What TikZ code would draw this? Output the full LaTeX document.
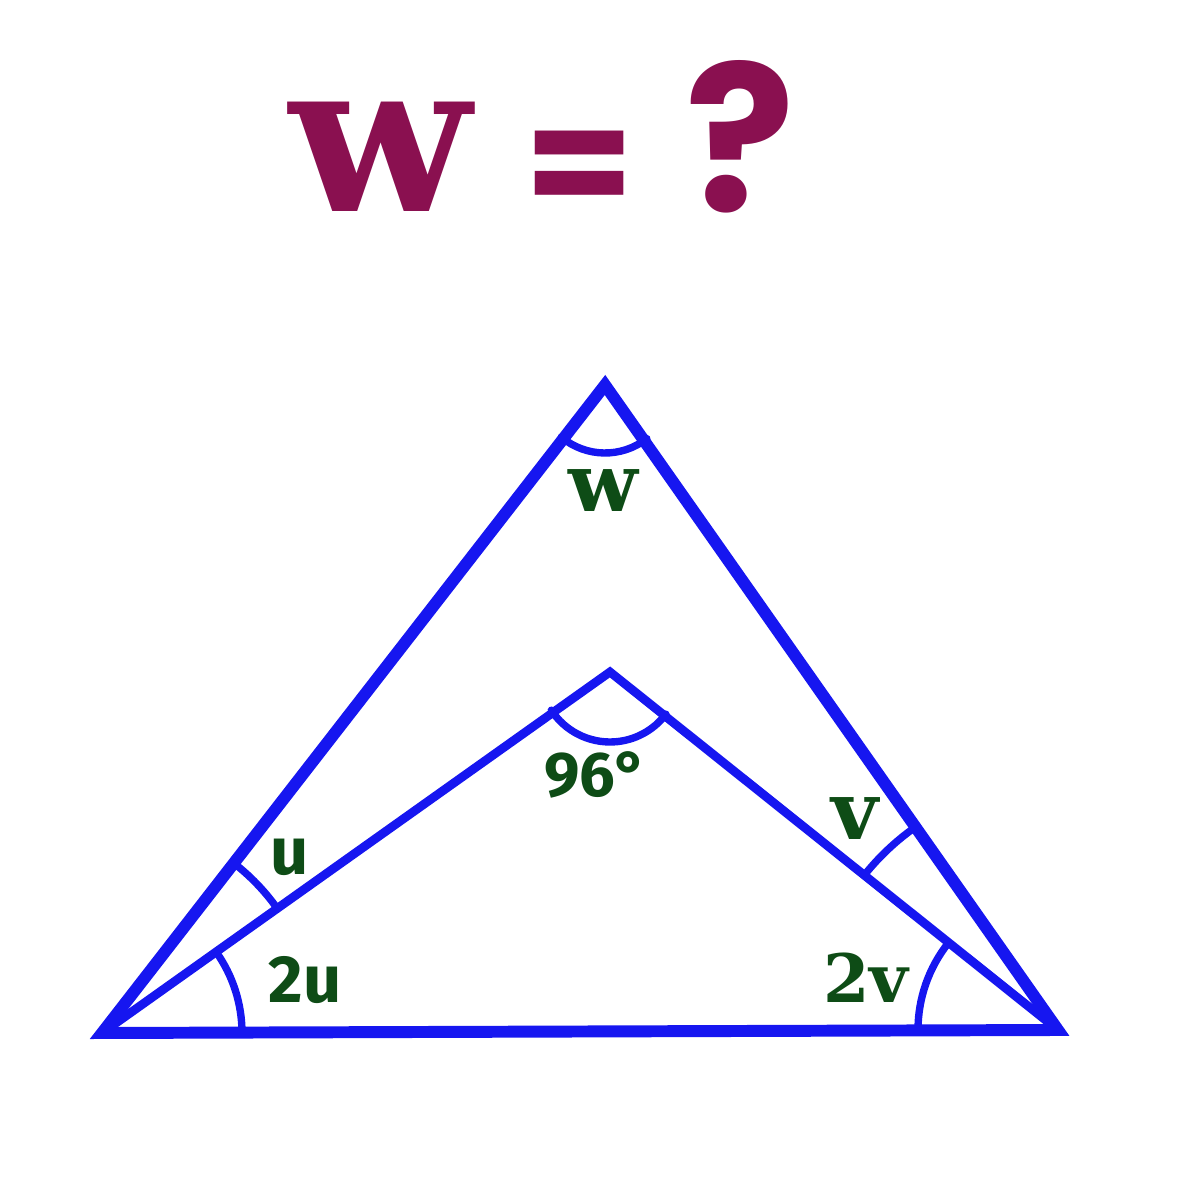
\documentclass[tikz,border=0pt]{standalone}
\usepackage{fontspec}
\setmainfont{DejaVu Serif}
\newfontfamily\labsans{Fira Sans}
\newfontfamily\titlesans{Poppins}
\definecolor{edgeblue}{RGB}{22,22,240}
\definecolor{labgreen}{RGB}{14,76,22}
\definecolor{titlered}{RGB}{138,16,80}
\tikzset{
  side/.style={edgeblue,line width=3.4pt},
  inner side/.style={edgeblue,line width=2.5pt},
  anglemark/.style={edgeblue,line width=2.1pt,line cap=round},
  slablab/.style={labgreen,anchor=base,font=\fontsize{23}{24}\selectfont\bfseries},
  sanslab/.style={labgreen,anchor=base,font=\fontsize{18}{20}\selectfont\labsans\bfseries},
  titletext/.style={titlered,anchor=base}
}
\begin{document}
\begin{tikzpicture}
    \useasboundingbox (0,0) rectangle (12,12);
    % points
    \coordinate (A) at (1.02,1.67);
    \coordinate (B) at (10.58,1.70);
    \coordinate (C) at (6.05,8.15);
    \coordinate (D) at (6.10,5.28);
    % title
    \node[titletext,font=\fontsize{60}{62}\selectfont\bfseries] (titleW) at (3.80,9.88) {w};
    \node[titletext,font=\fontsize{45}{48}\selectfont\titlesans\bfseries] (titleEq) at (5.80,9.81) {=};
    \node[titletext,font=\fontsize{58}{62}\selectfont\titlesans\bfseries] (titleQ) at (7.40,9.88) {?};
    % triangles
    \draw[side] (A) -- (C) -- (B) -- cycle;
    \draw[inner side] (A) -- (D) -- (B);
    % angle marks
    \draw[anglemark] ([shift={(230:0.68)}]C) arc (230:308:0.68);
    \draw[anglemark] ([shift={(213:0.70)}]D) arc (213:323:0.70);
    \draw[anglemark] ([shift={(35.4:2.15)}]A) arc (35.4:52.5:2.15);
    \draw[anglemark] ([shift={(0:1.40)}]A) arc (0:35.4:1.40);
    \draw[anglemark] ([shift={(125:2.48)}]B) arc (125:141.4:2.48);
    \draw[anglemark] ([shift={(141.4:1.40)}]B) arc (141.4:180:1.40);
    % labels
    \node[slablab] (labW) at (6.03,6.88) {w};
    \node[sanslab] (labD) at (5.96,4.03) {96°};
    \node[sanslab,font=\fontsize{19}{20}\selectfont\labsans\bfseries] (labU) at (2.90,3.25) {u};
    \node[sanslab,font=\fontsize{19}{20}\selectfont\labsans\bfseries] (labUU) at (3.05,1.97) {2u};
    \node[slablab] (labV) at (8.55,3.60) {v};
    \node[slablab,font=\fontsize{19}{20}\selectfont\bfseries] (labVV) at (8.66,1.97) {2v};
\end{tikzpicture}
\end{document}
